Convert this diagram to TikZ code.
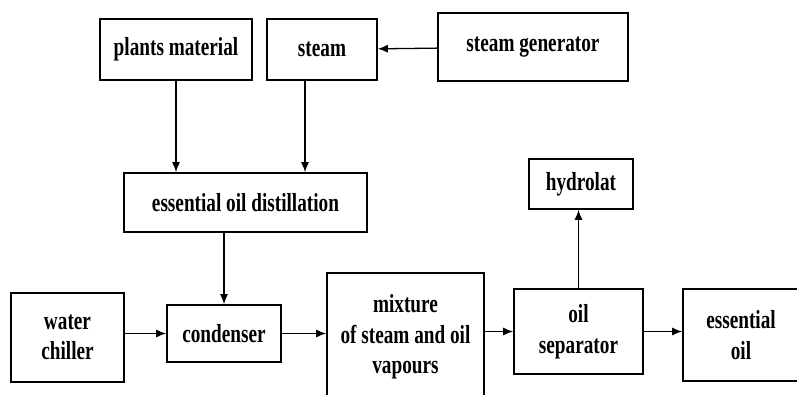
\documentclass[tikz,border=0pt]{standalone}
\usepackage{fontspec}
\setmainfont{Liberation Serif}[FakeStretch=0.74]
\usetikzlibrary{arrows.meta}
\begin{document}
\begin{tikzpicture}[x=1pt, y=-1pt, >={Latex[length=10pt,width=8pt]}, line width=1.3pt,
  box/.style={draw, line width=1.6pt, align=center, inner sep=0pt,
    font=\fontsize{26}{30.5}\selectfont\bfseries}]
\useasboundingbox (0,0) rectangle (797,395);
\clip (0,0) rectangle (797,395);
\node[box, minimum width=152, minimum height=61] (plants) at (176,49.5) {plants material};
\node[box, minimum width=110, minimum height=61] (steam) at (322,49.5) {steam};
\node[box, minimum width=190, minimum height=68] (generator) at (533,47) {\raisebox{5pt}{steam generator}};
\node[box, minimum width=243, minimum height=59] (distillation) at (245.5,202.5) {essential oil distillation};
\node[box, minimum width=113, minimum height=89] (chiller) at (67.5,337.5) {water\\chiller};
\node[box, minimum width=114, minimum height=57] (condenser) at (224,333.5) {condenser};
\node[box, minimum width=157, minimum height=128] (mixture) at (405.5,337) {mixture\\of steam and oil\\vapours};
\node[box, minimum width=129, minimum height=85] (separator) at (578.5,331.5) {oil\\separator};
\node[box, minimum width=104, minimum height=50] (hydrolat) at (581,184) {hydrolat};
\node[box, minimum width=116, minimum height=92] (essoil) at (741,335) {essential\\oil};
\draw[->] (generator) -- (steam);
\draw[->] (plants.south) -- (plants.south |- distillation.north);
\draw[->] ([xshift=-17pt]steam.south) -- ([xshift=-17pt]steam.south |- distillation.north);
\draw[->] (condenser.north |- distillation.south) -- (condenser.north);
\draw[->] (chiller.east |- condenser.west) -- (condenser.west);
\draw[->] (condenser.east) -- (condenser.east -| mixture.west);
\draw[->] (separator.west -| mixture.east) -- (separator.west);
\draw[->] (separator.east) -- (separator.east -| essoil.west);
\draw[->] (separator.north) -- (separator.north |- hydrolat.south);
\end{tikzpicture}
\end{document}
